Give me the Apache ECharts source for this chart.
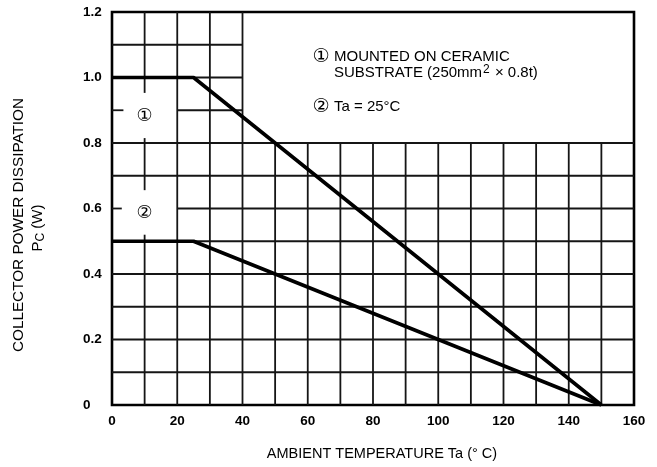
<!DOCTYPE html>
<html>
<head>
<meta charset="utf-8">
<script src="https://cdn.jsdelivr.net/npm/echarts@6/dist/echarts.min.js"></script>
<style>html,body{margin:0;padding:0;background:#fff}#c{width:657px;height:467px}</style>
</head>
<body>
<div id="c"></div>
<script>
// Curve data (Ta in °C, Pc in W)
const tempPoints = [0, 25, 150];
const pcCeramic = [1.0, 1.0, 0];   // ① mounted on ceramic substrate
const pcFreeAir = [0.5, 0.5, 0];   // ② Ta = 25°C

// Axis ranges / ticks
const xTicks = [0, 20, 40, 60, 80, 100, 120, 140, 160];
const yTicks = [0, 0.2, 0.4, 0.6, 0.8, 1.0, 1.2];

// Printed chart-paper grid segments
// vertical: [x, yFrom, yTo]
const vGrid = [
  [10, 0, 0.52], [10, 0.656, 0.815], [10, 0.953, 1.2],
  [20, 0, 1.2], [30, 0, 1.2], [40, 0, 1.2],
  [50, 0, 0.8], [60, 0, 0.8], [70, 0, 0.8], [80, 0, 0.8], [90, 0, 0.8],
  [100, 0, 0.8], [110, 0, 0.8], [120, 0, 0.8], [130, 0, 0.8], [140, 0, 0.8], [150, 0, 0.8]
];
// horizontal: [y, xFrom, xTo]
const hGrid = [
  [0.1, 0, 160], [0.2, 0, 160], [0.3, 0, 160], [0.4, 0, 160], [0.5, 0, 160],
  [0.6, 0, 3], [0.6, 20, 160], [0.7, 0, 160], [0.8, 0, 160],
  [0.9, 0, 3.5], [0.9, 20, 40], [1.0, 0, 40], [1.1, 0, 40]
];

const gridSegs = vGrid.map(v => [v[0], v[1], v[0], v[2]])
  .concat(hGrid.map(h => [h[1], h[0], h[2], h[0]]));

const FONT = '"Liberation Sans", Arial, Helvetica, sans-serif';
const CIRC = '"DejaVu Sans", sans-serif';
const chart = echarts.init(document.getElementById('c'), null, {renderer: 'canvas'});

chart.setOption({
  animation: false,
  backgroundColor: '#fff',
  grid: {left: 112, right: 23, top: 12, bottom: 62, show: true, borderColor: '#000', borderWidth: 2.6, backgroundColor: 'transparent'},
  xAxis: {
    type: 'value', min: xTicks[0], max: xTicks[xTicks.length - 1], interval: 20,
    axisLine: {show: false}, axisTick: {show: false}, splitLine: {show: false},
    axisLabel: {color: '#000', fontSize: 13.5, fontWeight: 'bold', fontFamily: FONT, margin: 9}
  },
  yAxis: {
    type: 'value', min: yTicks[0], max: yTicks[yTicks.length - 1], interval: 0.2,
    axisLine: {show: false}, axisTick: {show: false}, splitLine: {show: false},
    axisLabel: {color: '#000', fontSize: 13.5, fontWeight: 'bold', fontFamily: FONT, margin: 29, align: 'left',
      formatter: v => (v === 0 ? '0' : v.toFixed(1))}
  },
  series: [
    {
      type: 'custom', z: 1, silent: true,
      data: gridSegs,
      encode: {x: [0, 2], y: [1, 3]},
      renderItem: function (params, api) {
        const p1 = api.coord([api.value(0), api.value(1)]);
        const p2 = api.coord([api.value(2), api.value(3)]);
        return {type: 'line', shape: {x1: p1[0], y1: p1[1], x2: p2[0], y2: p2[1]},
          style: {stroke: '#151515', lineWidth: 1.8}};
      }
    },
    {
      type: 'line', z: 3, showSymbol: false, silent: true,
      data: tempPoints.map((t, i) => [t, pcCeramic[i]]),
      lineStyle: {color: '#000', width: 3.6}
    },
    {
      type: 'line', z: 3, showSymbol: false, silent: true,
      data: tempPoints.map((t, i) => [t, pcFreeAir[i]]),
      lineStyle: {color: '#000', width: 3.6}
    }
  ]
});

const m1 = chart.convertToPixel({gridIndex: 0}, [10, 0.882]);
const m2 = chart.convertToPixel({gridIndex: 0}, [10, 0.586]);

chart.setOption({
  graphic: [
    {type: 'text', x: m1[0], y: m1[1], style: {text: '①', fontSize: 18, fontFamily: CIRC, fill: '#000', align: 'center', verticalAlign: 'middle'}},
    {type: 'text', x: m2[0], y: m2[1], style: {text: '②', fontSize: 18, fontFamily: CIRC, fill: '#000', align: 'center', verticalAlign: 'middle'}},
    {type: 'text', x: 321, y: 57, style: {text: '①', fontSize: 19, fontFamily: CIRC, fill: '#000', align: 'center', verticalAlign: 'middle'}},
    {type: 'text', x: 334, y: 57, style: {text: 'MOUNTED ON CERAMIC', fontSize: 15, fontFamily: FONT, fill: '#000', align: 'left', verticalAlign: 'middle'}},
    {type: 'text', x: 334, y: 73, style: {text: 'SUBSTRATE (250mm{sup|2} × 0.8t)', fontSize: 15, fontFamily: FONT, fill: '#000', align: 'left', verticalAlign: 'middle',
      rich: {sup: {fontSize: 12, fontFamily: FONT, verticalAlign: 'top', padding: [0, 1, 6, 1]}}}},
    {type: 'text', x: 321, y: 107, style: {text: '②', fontSize: 19, fontFamily: CIRC, fill: '#000', align: 'center', verticalAlign: 'middle'}},
    {type: 'text', x: 334, y: 107, style: {text: 'Ta = 25°C', fontSize: 15, fontFamily: FONT, fill: '#000', align: 'left', verticalAlign: 'middle'}},
    {type: 'text', x: 382, y: 454, style: {text: 'AMBIENT TEMPERATURE Ta (° C)', fontSize: 14.5, fontFamily: FONT, fill: '#000', align: 'center', verticalAlign: 'middle'}},
    {type: 'text', x: 19, y: 225, rotation: Math.PI / 2, style: {text: 'COLLECTOR POWER DISSIPATION', fontSize: 15.3, fontFamily: FONT, fill: '#000', align: 'center', verticalAlign: 'middle'}},
    {type: 'text', x: 38, y: 228, rotation: Math.PI / 2, style: {text: 'P{sub|C} (W)', fontSize: 15, fontFamily: FONT, fill: '#000', align: 'center', verticalAlign: 'middle',
      rich: {sub: {fontSize: 12, fontFamily: FONT, verticalAlign: 'bottom', padding: [6, 0, 0, 0]}}}}
  ]
});
</script>
</body>
</html>
